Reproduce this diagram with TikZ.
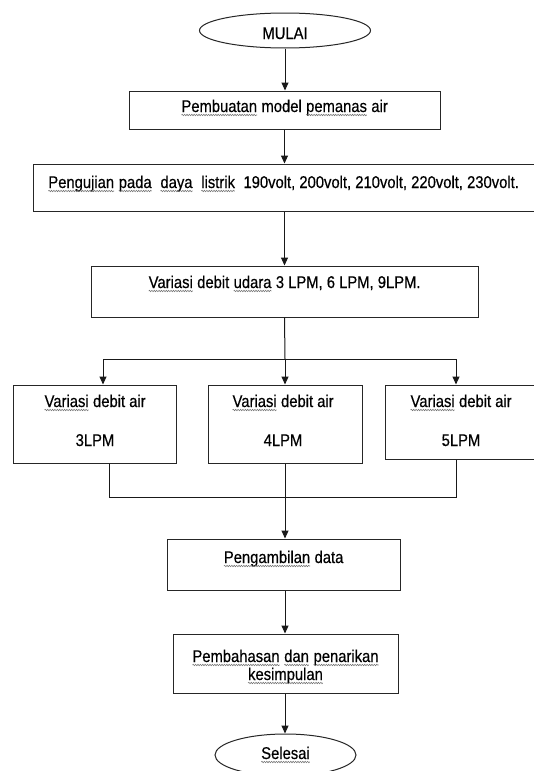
\documentclass[tikz,border=0pt]{standalone}
\usepackage{fontspec}
\setmainfont{Liberation Sans}[FakeStretch=0.87,FakeBold=0.4]
\usetikzlibrary{shapes.geometric,arrows.meta,decorations.pathmorphing}
\newcommand\sq[1]{\tikz[baseline=(w.base)]{\node[inner sep=0pt,outer sep=0pt,draw=none] (w) {#1};
  \draw[gray!90!black, line width=0.55pt, decorate, decoration={snake,amplitude=0.7pt,segment length=2.4pt}]
    ([yshift=-3pt]w.base west) -- ([yshift=-3pt]w.base east);}}
\tikzset{
  box/.style={draw=black!85, line width=1pt, rectangle, inner sep=0pt},
  term/.style={draw=black!85, line width=1pt, ellipse, inner sep=0pt},
  txt/.style={anchor=base, inner sep=0pt, font=\fontsize{17}{19}\selectfont, text=black},
  conn/.style={draw=black!90, line width=1pt},
  arr/.style={conn, -{Triangle[length=8pt,width=7pt]}}
}
\begin{document}
\begin{tikzpicture}[x=1pt,y=-1pt]
\useasboundingbox (0,0) rectangle (534,771);
\clip (0,0) rectangle (534,771);
\fill[white] (0,0) rectangle (534,771);
% shapes
\node[term, minimum width=171pt, minimum height=35pt] (start) at (285,30.5) {};
\node[box, minimum width=311pt, minimum height=38pt] (b1) at (284.5,110) {};
\node[box, minimum width=504pt, minimum height=47pt] (b2) at (285,187.5) {};
\node[box, minimum width=387pt, minimum height=51pt] (b3) at (284.5,291.5) {};
\node[box, minimum width=163pt, minimum height=78pt] (bl) at (94.5,424) {};
\node[box, minimum width=154pt, minimum height=78pt] (bm) at (285,424) {};
\node[box, minimum width=152pt, minimum height=74pt] (br) at (461,422) {};
\node[box, minimum width=233pt, minimum height=51pt] (b4) at (283.5,564.5) {};
\node[box, minimum width=225pt, minimum height=59pt] (b5) at (285.5,663.5) {};
\node[term, minimum width=141pt, minimum height=42pt] (stop) at (285.5,755) {};
% texts
\node[txt] (t0) at (285,39) {MULAI};
\node[txt] (t1) at (284.5,112) {\sq{Pembuatan} model \sq{pemanas} air};
\node[txt] (t2) at (283.5,188) {\sq{Pengujian} \sq{pada}\ \ \sq{daya}\ \ \sq{listrik}\ \ 190volt, 200volt, 210volt, 220volt, 230volt.};
\node[txt] (t3) at (284.5,288) {\sq{Variasi} debit \sq{udara} 3 LPM, 6 LPM, 9LPM.};
\node[txt] (tl1) at (95,407) {\sq{Variasi} debit air};
\node[txt] (tl2) at (95,446) {3LPM};
\node[txt] (tm1) at (283,407) {\sq{Variasi} debit air};
\node[txt] (tm2) at (283,446) {4LPM};
\node[txt] (tr1) at (461,407) {\sq{Variasi} debit air};
\node[txt] (tr2) at (461,446) {5LPM};
\node[txt] (t4) at (283.5,563) {\sq{Pengambilan} data};
\node[txt] (t5a) at (285.5,662) {\sq{Pembahasan} \sq{dan} \sq{penarikan}};
\node[txt] (t5b) at (285.5,680) {\sq{kesimpulan}};
\node[txt] (t6) at (285.5,759) {\sq{Selesai}};
% connectors
\coordinate (split) at (285,359);
\coordinate (sl) at (103,359);
\coordinate (sr) at (456,359);
\coordinate (ml) at (109,497);
\coordinate (mm) at (285,497);
\coordinate (mr) at (456,497);
\draw[arr] (start.south) -- (start.south |- b1.north);
\draw[arr] (b1.south) -- (b1.south |- b2.north);
\draw[arr] (b2.south -| b1.south) -- (b1.south |- b3.north);
\draw[conn] (b3.south) -- (split);
\draw[conn] (sl) -- (sr);
\draw[arr] (sl) -- (sl |- bl.north);
\draw[arr] (split) -- (split |- bm.north);
\draw[arr] (sr) -- (sr |- br.north);
\draw[conn] (ml |- bl.south) -- (ml) -- (mr) -- (mr |- br.south);
\draw[arr] (bm.south) -- (bm.south |- b4.north);
\draw[arr] (b4.south -| bm.south) -- (bm.south |- b5.north);
\draw[arr] (b5.south -| bm.south) -- (bm.south |- stop.north);
\end{tikzpicture}
\end{document}
